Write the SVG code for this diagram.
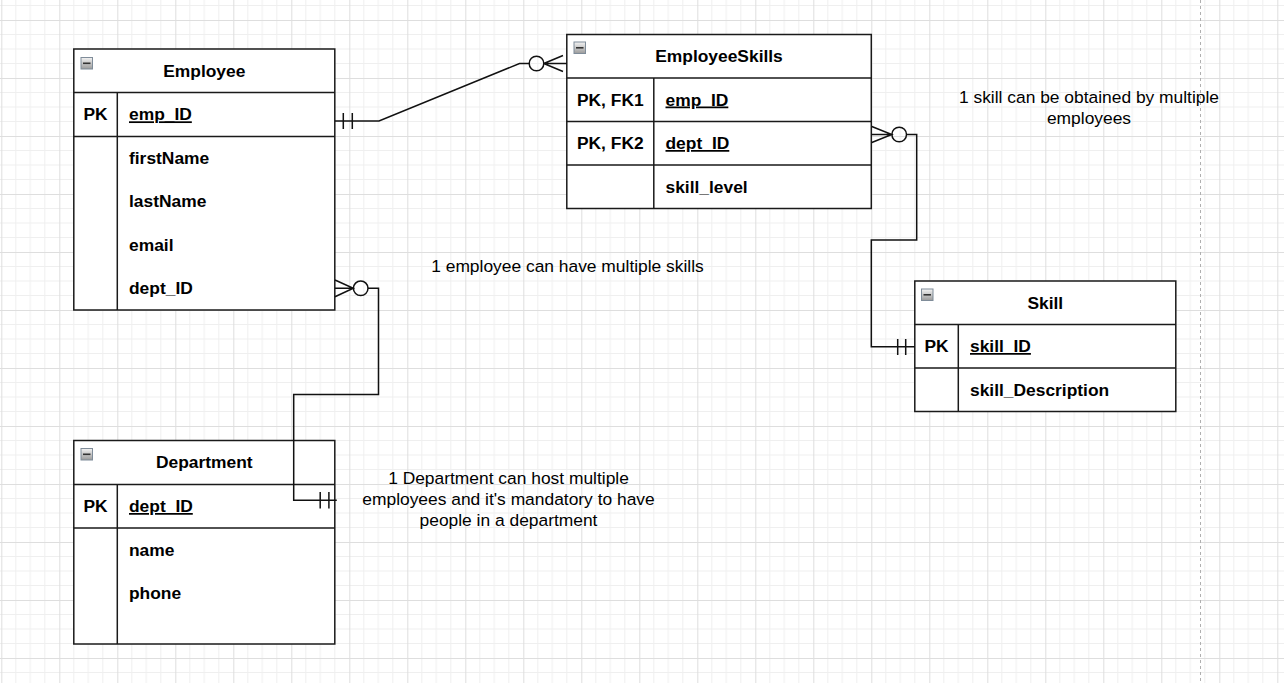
<svg xmlns="http://www.w3.org/2000/svg" width="1284" height="683" viewBox="0 0 1284 683">
<defs>
<pattern id="grid" x="1.3" y="20" width="58" height="58" patternUnits="userSpaceOnUse">
<path d="M0 14.5H58M0 29H58M0 43.5H58M14.5 0V58M29 0V58M43.5 0V58" stroke="#efefef" stroke-width="1" fill="none"/>
<path d="M0 0.5H58M0.5 0V58" stroke="#dedede" stroke-width="1" fill="none"/>
</pattern>
<linearGradient id="ig" x1="0" y1="0" x2="0" y2="1">
<stop offset="0" stop-color="#f4f4f4"/>
<stop offset="1" stop-color="#9a9a9a"/>
</linearGradient>
<g id="minus">
<rect x="0.5" y="0.5" width="11.5" height="11.5" fill="url(#ig)" stroke="#7f8c99" stroke-width="1"/>
<path d="M2.5 6.3H10" stroke="#333" stroke-width="1.6"/>
</g>
</defs>
<style>
.box{fill:#fff;stroke:#1a1a1a;stroke-width:1.5}
.ln{stroke:#1a1a1a;stroke-width:1.5;fill:none}
.t{font-family:"Liberation Sans",Arial,sans-serif;font-size:17.4px;font-weight:bold;fill:#000}
.u{text-decoration:underline}
.n{font-family:"Liberation Sans",Arial,sans-serif;font-size:17.4px;fill:#000}
.c{stroke:#111;stroke-width:1.5;fill:none}
</style>
<rect width="1284" height="683" fill="#fff"/>
<rect width="1284" height="683" fill="url(#grid)"/>
<path d="M1200.5 0V683" stroke="#b0b0b0" stroke-width="1" stroke-dasharray="3 3"/>

<g id="employee">
<rect class="box" x="73.8" y="49" width="261" height="261"/>
<path class="ln" d="M73.8 92.5H334.8M73.8 136.5H334.8M117.3 92.5V310"/>
<use href="#minus" x="80.5" y="57"/>
<text class="t" x="204.3" y="76.5" text-anchor="middle">Employee</text>
<text class="t" x="95.5" y="120.3" text-anchor="middle">PK</text>
<text class="t u" x="129" y="120.3">emp_ID</text>
<text class="t" x="129" y="163.5">firstName</text>
<text class="t" x="129" y="207">lastName</text>
<text class="t" x="129" y="250.5">email</text>
<text class="t" x="129" y="294">dept_ID</text>
</g>

<g id="employeeskills">
<rect class="box" x="566.8" y="34.5" width="304.5" height="174"/>
<path class="ln" d="M566.8 78H871.3M566.8 121.5H871.3M566.8 165H871.3M653.8 78V208.5"/>
<use href="#minus" x="573.5" y="41.5"/>
<text class="t" x="719" y="62" text-anchor="middle">EmployeeSkills</text>
<text class="t" x="610.3" y="105.5" text-anchor="middle">PK, FK1</text>
<text class="t u" x="665.5" y="105.5">emp_ID</text>
<text class="t" x="610.3" y="149" text-anchor="middle">PK, FK2</text>
<text class="t u" x="665.5" y="149">dept_ID</text>
<text class="t" x="665.5" y="192.5">skill_level</text>
</g>

<g id="skill">
<rect class="box" x="914.8" y="281" width="261" height="130.5"/>
<path class="ln" d="M914.8 324.5H1175.8M914.8 368H1175.8M958.3 324.5V411.5"/>
<use href="#minus" x="921" y="288.5"/>
<text class="t" x="1045.3" y="308.5" text-anchor="middle">Skill</text>
<text class="t" x="936.5" y="352" text-anchor="middle">PK</text>
<text class="t u" x="970" y="352">skill_ID</text>
<text class="t" x="970" y="395.5">skill_Description</text>
</g>

<g id="department">
<rect class="box" x="73.8" y="440.5" width="261" height="203.5"/>
<path class="ln" d="M73.8 484.5H334.8M73.8 528H334.8M117.3 484.5V644"/>
<use href="#minus" x="80.5" y="448"/>
<text class="t" x="204.3" y="468" text-anchor="middle">Department</text>
<text class="t" x="95.5" y="512" text-anchor="middle">PK</text>
<text class="t u" x="129" y="512">dept_ID</text>
<text class="t" x="129" y="555.5">name</text>
<text class="t" x="129" y="599">phone</text>
</g>

<g id="connectors">
<path class="c" d="M335 121H379L519.5 63.5H529.2"/>
<path class="c" d="M343.3 113V129M352.3 113V129"/>
<circle class="c" cx="536.5" cy="63.5" r="7.3" fill="#fff"/>
<path class="c" d="M543.8 63.5L563 55.5M543.8 63.5L563 71.5M543.8 63.5H567"/>

<path class="c" d="M871.3 134.5H891.8M871.8 126.5L891.8 134.5L871.8 142.5"/>
<circle class="c" cx="899.2" cy="134.5" r="7.3" fill="#fff"/>
<path class="c" d="M906.5 134.5H916.7V240H871.3V346.7H914.8"/>
<path class="c" d="M897.7 339V355M905.7 339V355"/>

<path class="c" d="M335 288.3H353.3M335 280L353.3 288.3L335 296.7"/>
<circle class="c" cx="360.7" cy="288.3" r="7.3" fill="#fff"/>
<path class="c" d="M368 288.3H378.5V394.5H293.7V500.3H336.8"/>
<path class="c" d="M320.2 492V508.5M328.9 492V508.5"/>
</g>

<g id="notes">
<text class="n" x="567.5" y="272" text-anchor="middle">1 employee can have multiple skills</text>
<text class="n" x="1089" y="103" text-anchor="middle">1 skill can be obtained by multiple</text>
<text class="n" x="1089" y="124" text-anchor="middle">employees</text>
<text class="n" x="508.5" y="484" text-anchor="middle">1 Department can host multiple</text>
<text class="n" x="508.5" y="505" text-anchor="middle">employees and it's mandatory to have</text>
<text class="n" x="508.5" y="526" text-anchor="middle">people in a department</text>
</g>
</svg>
